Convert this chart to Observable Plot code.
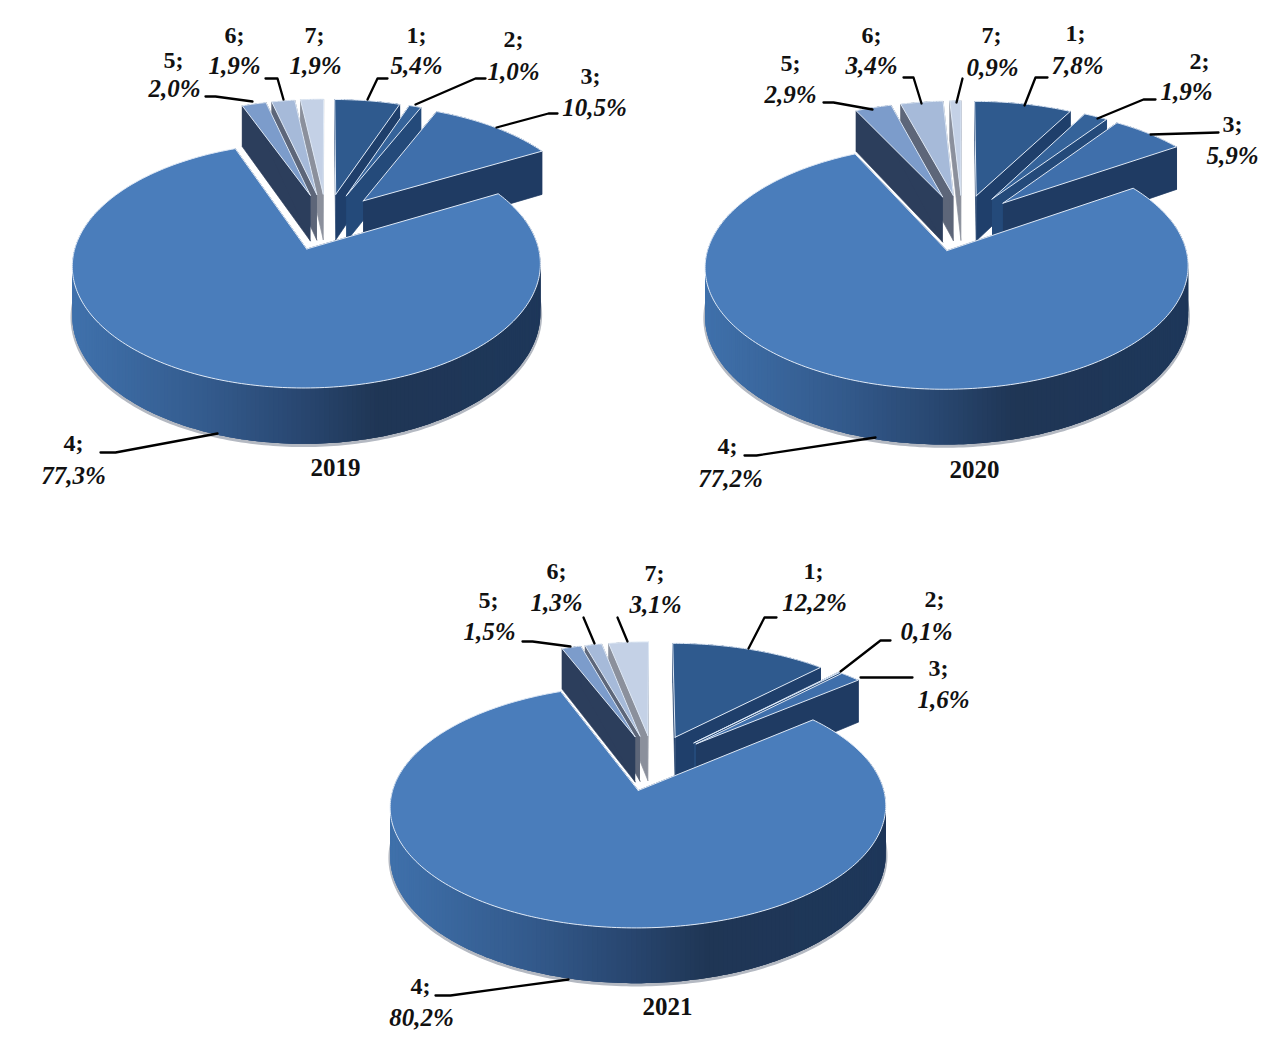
<!DOCTYPE html>
<html>
<head>
<meta charset="utf-8">
<script src="https://cdn.jsdelivr.net/npm/d3@7"></script>
<script src="https://cdn.jsdelivr.net/npm/@observablehq/plot@0.6"></script>
<style>html,body{margin:0;padding:0;background:#fff}svg{display:block}</style>
</head>
<body>
<div id="chart"></div>
<script>
const categories = [1, 2, 3, 4, 5, 6, 7];
const years = [2019, 2020, 2021];
const values2019 = [5.4, 1.0, 10.5, 77.3, 2.0, 1.9, 1.9];
const values2020 = [7.8, 1.9, 5.9, 77.2, 2.9, 3.4, 0.9];
const values2021 = [12.2, 0.1, 1.6, 80.2, 1.5, 1.3, 3.1];
const seriesValues = [values2019, values2020, values2021];

// palette, per category
const topColors = ["#2f5a8e", "#35639a", "#3f6fab", "#4a7dbb", "#7c9ccb", "#a6bad9", "#c4d1e6"];
const wallColors = ["#1f3f6b", "#244a7a", "#1f3b63", "#27456d", "#2c3e5c", "#5d6679", "#8b909c"];

// layout of the drawing (page pixels), kept apart from the data
const pieLayout = [
  {cx: 326, cy: 221, b: 225, a: 113.5, d: 47, title: [335, 467]},
  {cx: 962, cy: 222, b: 232, a: 113, d: 46.5, title: [974, 469]},
  {cx: 653, cy: 762, b: 238, a: 112, d: 46.5, title: [667, 1006]}
];
const labelAt = [
  [[416,35,416,65],[513,39,513,71],[590,76,594,107],[73,443,73,475],[173,60,174,88],[234,35,234,65],[314,35,315,65]],
  [[1075,33,1077,65],[1199,61,1186,91],[1232,124,1232,155],[727,446,730,478],[790,63,790,94],[871,35,871,65],[991,35,992,67]],
  [[813,571,814,602],[934,599,926,631],[938,668,943,699],[420,986,421,1017],[488,600,489,631],[556,571,556,602],[654,573,655,604]]
];
const leaderAt = [
  [[[387,78],[377,78],[367,99]],[[485,78],[475,78],[415,104]],[[557,113],[548,113],[496,127]],[[100,452],[115,452],[217,433]],[[205,96],[215,96],[252,101]],[[265,78],[277,78],[283,99]],[]],
  [[[1047,77],[1035,77],[1024,105]],[[1155,99],[1143,99],[1097,118]],[[1218,132],[1150,134]],[[744,455],[756,455],[875,437]],[[823,102],[833,102],[872,109]],[[903,77],[913,77],[921,103]],[[962,78],[956,102]]],
  [[[776,617],[764,617],[748,648]],[[890,640],[880,640],[840,671]],[[912,677],[860,677]],[[435,995],[450,995],[568,979]],[[522,641],[532,641],[570,646]],[[583,617],[594,643]],[[617,617],[627,641]]]
];
const explode = 0.25, persp = 0.128;
const font = '"Liberation Serif", "Times New Roman", serif';
const fmt = v => v.toFixed(1).replace(".", ",") + "%";
const wallRamp = d3.scaleLinear()
  .domain([0, 0.3, 0.5, 0.65, 1])
  .range(["#4072ad", "#335a8c", "#28466f", "#1f3655", "#1e375a"]);

const marks = [];
seriesValues.forEach((values, p) => {
  const L = pieLayout[p];
  const total = d3.sum(values);
  const project = (u, v, z) => {
    const s = 1 / (1 + persp * v);
    return {x: L.cx + L.b * u * s, y: L.cy - L.a * v * s + L.d * s * z};
  };
  let acc = 0;
  const slices = values.map((val, i) => {
    const a0 = acc / total * 2 * Math.PI;
    acc += val;
    const a1 = acc / total * 2 * Math.PI;
    const mid = (a0 + a1) / 2;
    return {i, a0, a1, ou: explode * Math.sin(mid), ov: explode * Math.cos(mid)};
  });
  const backToFront = [...slices].sort((s, t) => t.ov - s.ov);
  for (const S of backToFront) {
    const rim = (th, z) => project(S.ou + Math.sin(th), S.ov + Math.cos(th), z);
    const apex = z => project(S.ou, S.ov, z);
    const n = Math.max(2, Math.ceil((S.a1 - S.a0) / (Math.PI / 180)));
    const ths = d3.range(n + 1).map(k => S.a0 + (S.a1 - S.a0) * k / n);
    const big = S.i === 3;
    const wc = wallColors[S.i];
    // outer wall: each quad runs under the next one, so no seams appear in the shading
    const outer = [];
    ths.slice(0, -1).forEach((t0, k) => {
      if (big && Math.cos(t0) > 0.3) return;
      const A = rim(t0, 0);
      const c = big ? wallRamp(Math.max(0, Math.min(1, ((A.x - L.cx) / (L.b * 1.06) + 1.08) / 2))) : wc;
      const strip = [A, ...d3.range(0, 3).map(j => rim(ths[Math.min(k + j + 1, n)], 0)), ...d3.range(3, -1, -1).map(j => rim(ths[Math.min(k + j, n)], 1))];
      strip.forEach(q => outer.push({...q, id: "o" + k, c}));
    });
    // the two cut faces
    const cuts = [];
    [["a", S.a0], ["b", S.a1]].forEach(([id, th]) =>
      [apex(0), rim(th, 0), rim(th, 1), apex(1)].forEach(q => cuts.push({...q, id, c: wc})));
    const top = [apex(0), ...ths.map(th => rim(th, 0))];
    if (big) {
      const shadow = ths.filter(th => Math.cos(th) < 0.2).map(th => { const q = rim(th, 1); return {x: q.x, y: q.y + 1.5}; });
      marks.push(Plot.line(shadow, {x: "x", y: "y", stroke: "#b4b9c2", strokeWidth: 3.5}));
    }
    marks.push(Plot.line(outer, {x: "x", y: "y", z: "id", fill: "c"}));
    marks.push(Plot.line(cuts, {x: "x", y: "y", z: "id", fill: "c", stroke: "c", strokeWidth: 0.7}));
    marks.push(Plot.line([...top, top[0]], {x: "x", y: "y", fill: topColors[S.i], stroke: "#dfe9f6", strokeWidth: 1}));
  }
  // leaders
  const leaders = leaderAt[p].flatMap((pts, i) => pts.map(([x, y]) => ({x, y, id: i})));
  marks.push(Plot.line(leaders, {x: "x", y: "y", z: "id", stroke: "#000", strokeWidth: 2.3}));
  // labels
  const rows = categories.map((cat, i) => ({cat, val: values[i], at: labelAt[p][i]}));
  marks.push(Plot.text(rows, {x: d => d.at[0], y: d => d.at[1], text: d => d.cat + ";", fontFamily: font, fontWeight: "bold", fontSize: 24, fill: "#111"}));
  marks.push(Plot.text(rows, {x: d => d.at[2], y: d => d.at[3], text: d => fmt(d.val), fontFamily: font, fontWeight: "bold", fontStyle: "italic", fontSize: 25, fill: "#111"}));
  marks.push(Plot.text([years[p]], {x: () => L.title[0], y: () => L.title[1], text: d => String(d), fontFamily: font, fontWeight: "bold", fontSize: 25, fill: "#111"}));
});

const chart = Plot.plot({
  width: 1263, height: 1046,
  margin: 0,
  x: {domain: [0, 1263], range: [0, 1263], axis: null},
  y: {domain: [0, 1046], range: [0, 1046], axis: null},
  color: {type: "identity"},
  style: {background: "#fff"},
  marks
});
document.getElementById("chart").append(chart);
</script>
</body>
</html>
